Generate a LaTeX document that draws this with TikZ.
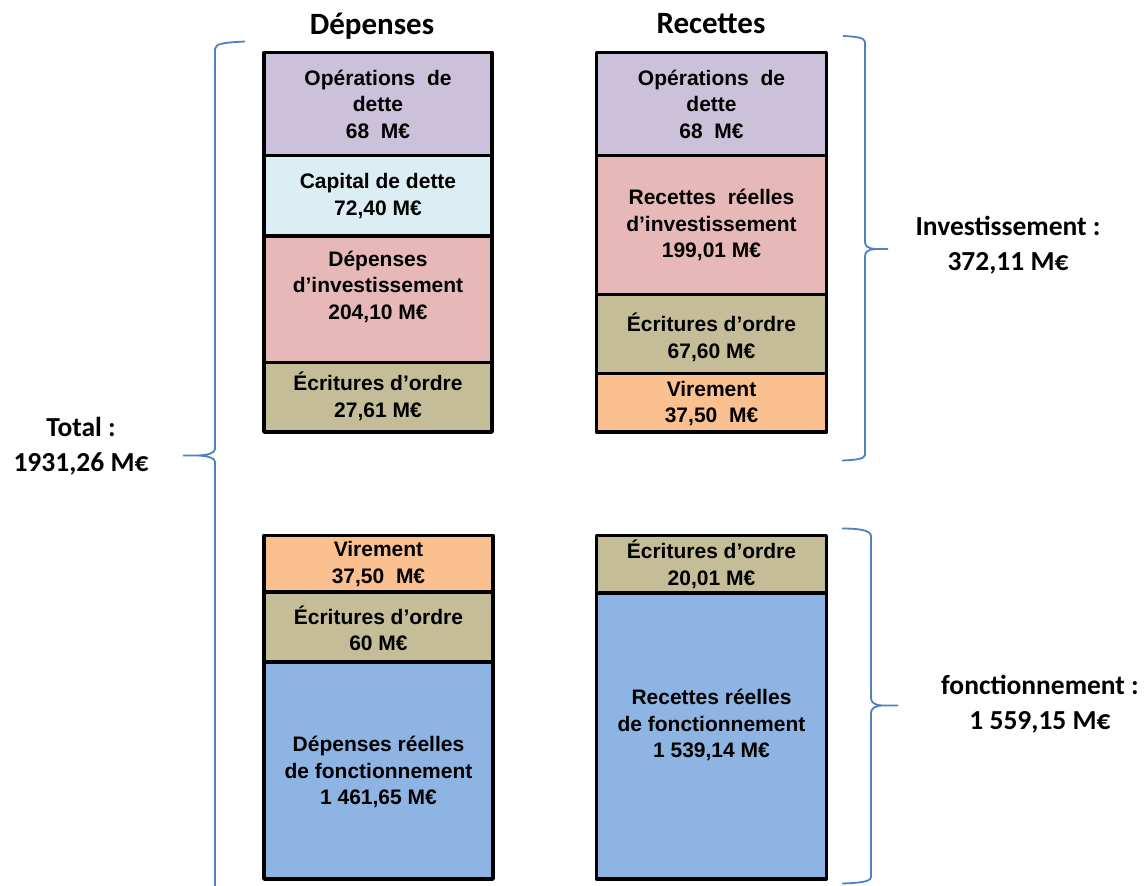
\documentclass[tikz,border=0pt]{standalone}
\usepackage{fontspec}
\setmainfont{Liberation Sans}
\newfontfamily\calibfont{Carlito}
\definecolor{cPurple}{HTML}{CCC1DA}
\definecolor{cCyan}{HTML}{DBEEF4}
\definecolor{cPink}{HTML}{E6B9B8}
\definecolor{cTan}{HTML}{C4BD97}
\definecolor{cOrange}{HTML}{FAC090}
\definecolor{cBlue}{HTML}{8EB4E3}
\definecolor{cBrace}{HTML}{4F81BD}
\begin{document}
\begin{tikzpicture}[x=1pt,y=-1pt,
  box/.style={draw=black,line width=3.6pt,line join=round,inner sep=0pt},
  txt/.style={align=center,font=\bfseries\fontsize{21}{26.5}\selectfont,inner sep=0pt},
  side/.style={align=center,font=\calibfont\bfseries\fontsize{27.5}{35}\selectfont,inner sep=0pt},
  head/.style={font=\calibfont\bfseries\fontsize{31}{36}\selectfont,inner sep=0pt},
  brace/.style={draw=cBrace,line width=1.8pt}]
\useasboundingbox (0,0) rectangle (1146,886);
% headings
\node[head] (hdep) at (372,26) {Dépenses};
\node[head] (hrec) at (711,24) {Recettes};
% left top column
\path[box,fill=cPurple] (264,52.5) rectangle (492,155.5);
\path[box,fill=cCyan] (264,155.5) rectangle (492,236);
\path[box,fill=cPink] (264,236) rectangle (492,362.5);
\path[box,fill=cTan] (264,362.5) rectangle (492,432);
\node[txt] (l1) at (378,104) {Opérations\ \ de\\dette\\68 \ M€};
\node[txt] (l2) at (378,196) {Capital de dette\\72,40 M€};
\node[txt] (l3) at (378,286.5) {Dépenses\\d’investissement\\204,10 M€};
\node[txt] (l4) at (378,396.5) {Écritures d’ordre\\27,61 M€};
% right top column
\path[box,fill=cPurple] (596.5,52.5) rectangle (826.5,155.5);
\path[box,fill=cPink] (596.5,155.5) rectangle (826.5,294.5);
\path[box,fill=cTan] (596.5,294.5) rectangle (826.5,373.5);
\path[box,fill=cOrange] (596.5,373.5) rectangle (826.5,432);
\node[txt] (r1) at (711.5,104) {Opérations\ \ de\\dette\\68 \ M€};
\node[txt] (r2) at (711.5,225) {Recettes\ \ réelles\\d’investissement\\199,01 M€};
\node[txt] (r3) at (711.5,337.5) {Écritures d’ordre\\67,60 M€};
\node[txt] (r4) at (711.5,403.5) {Virement\\37,50 \ M€};
% left bottom column
\path[box,fill=cOrange] (264,535.5) rectangle (493,592);
\path[box,fill=cTan] (264,592) rectangle (493,662);
\path[box,fill=cBlue] (264,662) rectangle (493,879);
\node[txt] (l5) at (378.5,564) {Virement\\37,50 \ M€};
\node[txt] (l6) at (378.5,628.5) {Écritures d’ordre\\60 M€};
\node[txt] (l7) at (378.5,772) {Dépenses réelles\\de fonctionnement\\1 461,65 M€};
% right bottom column
\path[box,fill=cTan] (596.5,535.5) rectangle (826.5,593);
\path[box,fill=cBlue] (596.5,593) rectangle (826.5,879);
\node[txt] (r5) at (711.5,564.5) {Écritures d’ordre\\20,01 M€};
\node[txt] (r6) at (711.5,725) {Recettes réelles\\de fonctionnement\\1 539,14 M€};
% braces
\draw[brace] (245,41.5) .. controls (225,42.5) and (215,43.5) .. (215,49)
  -- (215,449) .. controls (215,453) and (208,455) .. (198,455.5) -- (183,455.5)
  -- (198,455.5) .. controls (208,456) and (215,458) .. (215,462) -- (215,892);
\draw[brace] (843,36) .. controls (855,36.5) and (865,37.5) .. (865,42)
  -- (865,242) .. controls (865,246) and (868,248.5) .. (875,249) -- (888,249)
  -- (875,249) .. controls (868,249.5) and (865,252) .. (865,256)
  -- (865,455) .. controls (865,459) and (855,460) .. (842,460.5);
\draw[brace] (842,528.5) .. controls (858,528.5) and (871,530) .. (871,536)
  -- (871,698) .. controls (871,702) and (874,705) .. (882,705.5) -- (898,705.5)
  -- (882,705.5) .. controls (874,706) and (871,709) .. (871,713)
  -- (871,877) .. controls (871,882) and (858,883) .. (842,883.5);
% side labels
\node[side] (tot) at (81,446) {Total :\\1931,26 M€};
\node[side] (inv) at (1008,245) {Investissement :\\372,11 M€};
\node[side] (fon) at (1040,704) {fonctionnement :\\1 559,15 M€};
\end{tikzpicture}
\end{document}
